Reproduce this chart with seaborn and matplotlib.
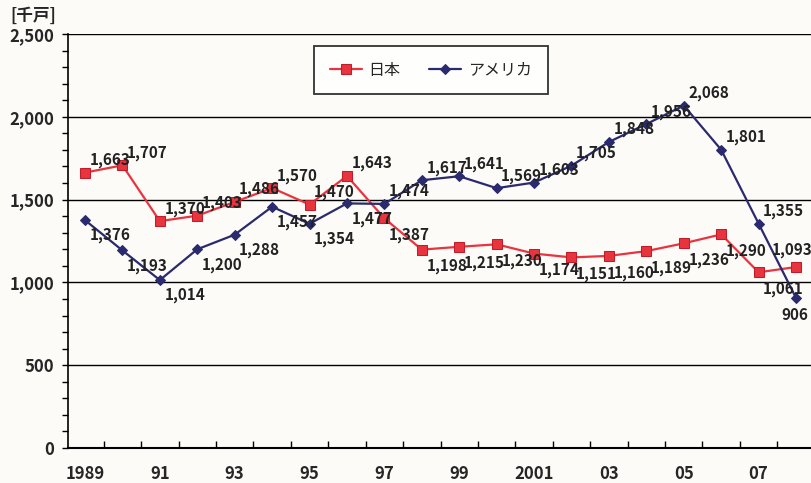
import matplotlib
matplotlib.use("Agg")
import matplotlib.pyplot as plt
import seaborn as sns
import pandas as pd
import numpy as np
from matplotlib.ticker import MultipleLocator, FixedLocator

# ---- data ----
years = list(range(1989, 2009))
japan = [1663, 1707, 1370, 1403, 1486, 1570, 1470, 1643, 1387, 1198,
         1215, 1230, 1174, 1151, 1160, 1189, 1236, 1290, 1061, 1093]
usa = [1376, 1193, 1014, 1200, 1288, 1457, 1354, 1477, 1474, 1617,
       1641, 1569, 1603, 1705, 1848, 1956, 2068, 1801, 1355, 906]
xtick_years = [1989, 1991, 1993, 1995, 1997, 1999, 2001, 2003, 2005, 2007]
xtick_labels = ["1989", "91", "93", "95", "97", "99", "2001", "03", "05", "07"]
ytick_vals = [0, 500, 1000, 1500, 2000, 2500]
unit_label = "[千戸]"
series_names = ["日本", "アメリカ"]

sns.set_theme(style="white")
plt.rcParams['font.family'] = ['Liberation Sans Narrow', 'Noto Sans CJK JP', 'DejaVu Sans']

bg = "#fcfbf7"
red = "#e8343f"
navy = "#2a2a6e"

fig = plt.figure(figsize=(8.11, 4.83), dpi=100, facecolor=bg)
ax = fig.add_axes([68/811, 35/483, (811-68)/811, (448-34)/483])
ax.set_facecolor(bg)

df = pd.DataFrame({"year": years, "japan": japan, "usa": usa})

sns.lineplot(data=df, x="year", y="japan", ax=ax, color=red, lw=1.6,
             marker="s", markersize=7, markerfacecolor=red,
             markeredgecolor="#c01d28", label=series_names[0], zorder=3)
sns.lineplot(data=df, x="year", y="usa", ax=ax, color=navy, lw=1.6,
             marker="D", markersize=5, markerfacecolor=navy,
             markeredgecolor=navy, label=series_names[1], zorder=4)

ax.set_xlim(1988.546, 2008.40)
ax.set_ylim(0, 2500)

# grid lines
for v in ytick_vals[1:]:
    ax.axhline(v, color="black", lw=1.0, zorder=1)

for s in ["top", "right"]:
    ax.spines[s].set_visible(False)
ax.spines["left"].set_color("black")
ax.spines["bottom"].set_color("black")
ax.spines["left"].set_linewidth(1.2)
ax.spines["bottom"].set_linewidth(1.5)

ax.set_yticks(ytick_vals)
ax.set_yticklabels([f"{v:,}" for v in ytick_vals], fontsize=12, fontweight="bold")
ax.yaxis.set_minor_locator(MultipleLocator(100))
ax.tick_params(axis="y", which="both", direction="out", length=4, width=1, color="black", left=True, pad=6)

# x: ticks between categories, labels at odd years
ax.xaxis.set_major_locator(FixedLocator(xtick_years))
ax.set_xticklabels(xtick_labels, fontsize=12, fontweight="bold")
ax.xaxis.set_minor_locator(FixedLocator([y + 0.5 for y in years[:-1]]))
ax.tick_params(axis="x", which="major", length=0, pad=12)
ax.tick_params(axis="x", which="minor", direction="in", length=5, width=1, color="black", bottom=True)

ax.set_xlabel("")
ax.set_ylabel("")

last = len(years) - 1
# data labels
for i, (yr, v) in enumerate(zip(years, japan)):
    if i == last:
        off = (-3, 12)
    elif i <= 7:
        off = (18, 9)
    else:
        off = (18, -12)
    ax.annotate(f"{v:,}", (yr, v), xytext=off, textcoords="offset points",
                ha="center", va="center", fontsize=11, fontweight="bold",
                color="#222222", zorder=5, annotation_clip=False)
for i, (yr, v) in enumerate(zip(years, usa)):
    if i == last:
        off = (-1, -12)
    elif i <= 7:
        off = (18, -11)
    else:
        off = (18, 9)
    ax.annotate(f"{v:,}", (yr, v), xytext=off, textcoords="offset points",
                ha="center", va="center", fontsize=11, fontweight="bold",
                color="#222222", zorder=5, annotation_clip=False)

fig.text(10/811, 1 - 16/483, unit_label, fontsize=12, fontweight="bold",
         ha="left", va="center", family=['Noto Sans CJK JP', 'DejaVu Sans'])

leg = ax.legend(loc="center", bbox_to_anchor=(431/811, 1 - 70/483),
                bbox_transform=fig.transFigure, ncol=2, frameon=True,
                fancybox=False, edgecolor="black", facecolor="white",
                handlelength=2.0, columnspacing=1.8,
                borderpad=1.0, handletextpad=0.4,
                prop={"family": ['Noto Sans CJK JP', 'DejaVu Sans'], "size": 11.5})
leg.get_frame().set_linewidth(1.3)

fig.savefig("out.png", dpi=100, facecolor=bg)
